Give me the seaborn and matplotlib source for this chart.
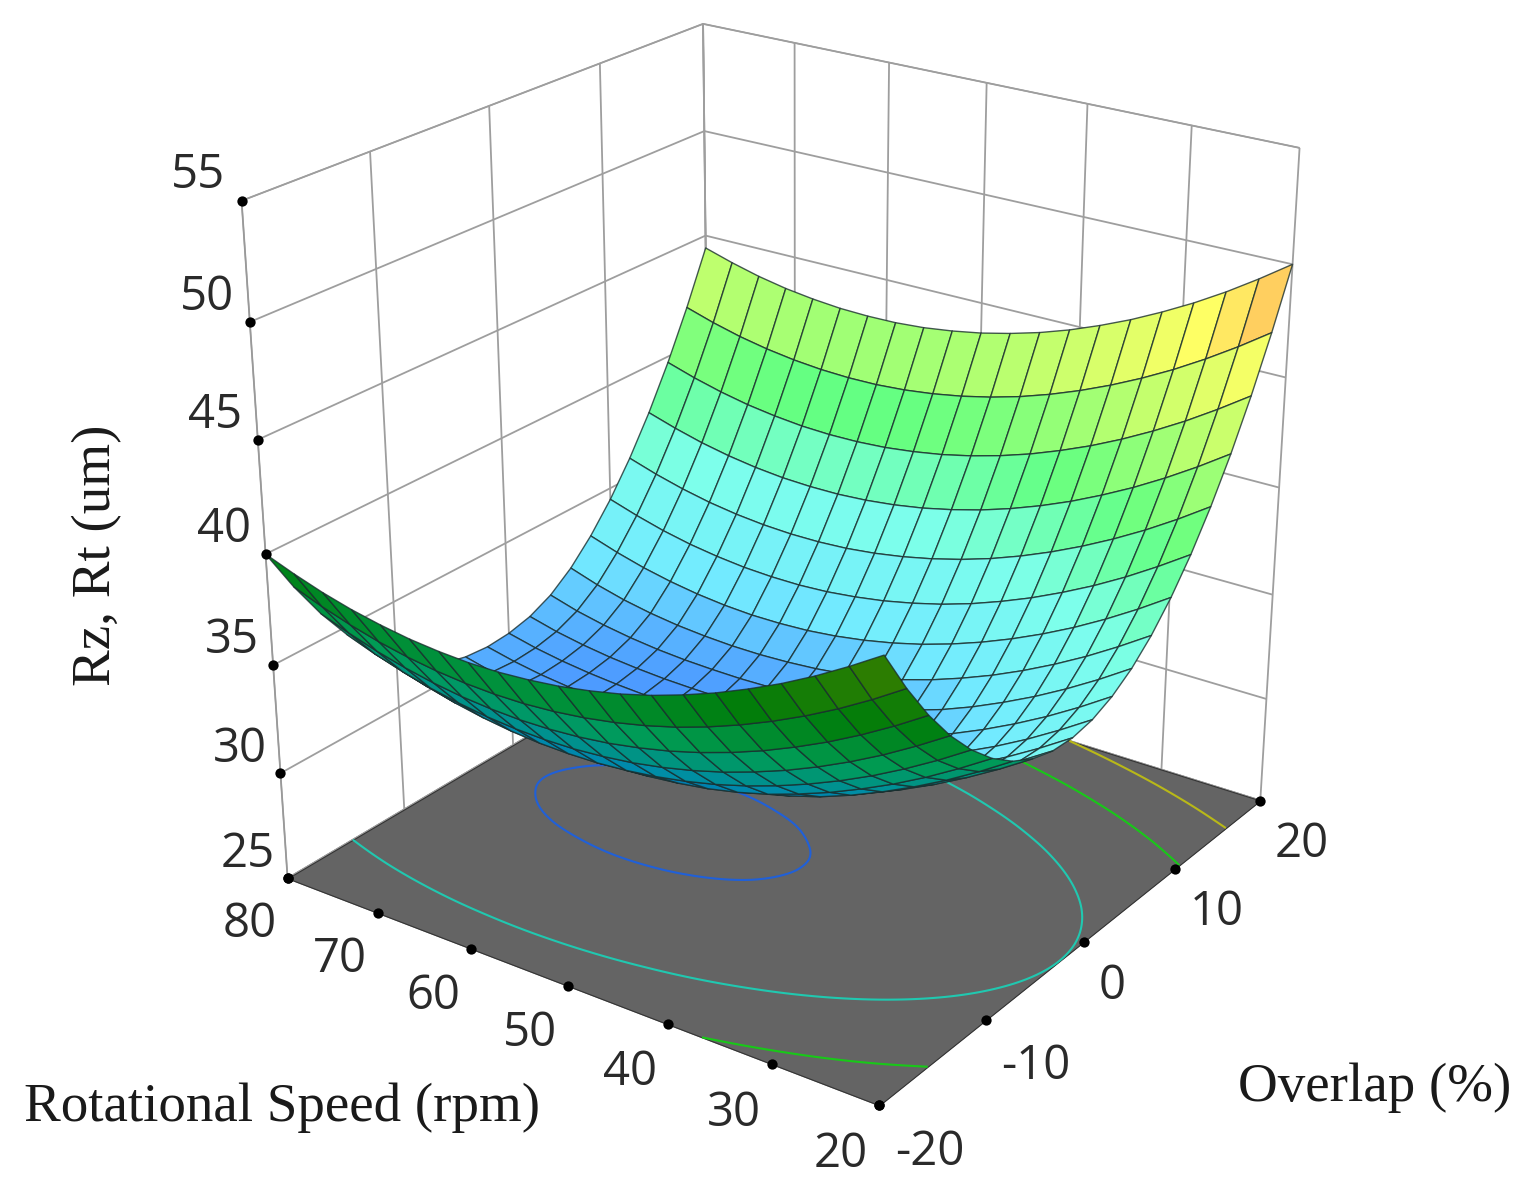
import numpy as np
import matplotlib
matplotlib.use("Agg")
import matplotlib.pyplot as plt
import matplotlib.tri as mtri
import seaborn as sns

overlap_ticks = [-20, -10, 0, 10, 20]
speed_ticks = [80, 70, 60, 50, 40, 30, 20]
z_ticks = [25, 30, 35, 40, 45, 50, 55]
levels = [30, 35, 40, 45]
level_colors = ["#2060d8", "#20c8b0", "#18c818", "#b8b818"]
overlap_grid = [-20, -18, -16, -14, -12, -10, -8, -6, -4, -2, 0, 2, 4, 6, 8, 10, 12, 14, 16, 18, 20]
speed_grid = [20, 23, 26, 29, 32, 35, 38, 41, 44, 47, 50, 53, 56, 59, 62, 65, 68, 71, 74, 77, 80]
# Rz, Rt: one row per speed_grid value, one column per overlap_grid value
rz_rt = [
    [44.00, 42.06, 40.35, 38.88, 37.65, 36.65, 35.89, 35.36, 35.07, 35.02, 35.20, 35.62, 36.27, 37.16, 38.29, 39.65, 41.25, 43.08, 45.15, 47.46, 50.00],
    [43.12, 41.17, 39.46, 37.99, 36.75, 35.75, 34.98, 34.45, 34.16, 34.10, 34.28, 34.69, 35.34, 36.23, 37.35, 38.71, 40.30, 42.13, 44.20, 46.50, 49.04],
    [42.30, 40.35, 38.64, 37.16, 35.92, 34.91, 34.14, 33.61, 33.31, 33.25, 33.42, 33.83, 34.48, 35.36, 36.48, 37.83, 39.42, 41.25, 43.31, 45.61, 48.14],
    [41.56, 39.61, 37.89, 36.41, 35.16, 34.15, 33.38, 32.84, 32.54, 32.47, 32.64, 33.05, 33.69, 34.57, 35.68, 37.03, 38.62, 40.44, 42.50, 44.79, 47.32],
    [40.90, 38.94, 37.22, 35.73, 34.48, 33.47, 32.69, 32.15, 31.84, 31.77, 31.94, 32.34, 32.98, 33.85, 34.96, 36.31, 37.89, 39.71, 41.76, 44.05, 46.58],
    [40.30, 38.34, 36.61, 35.12, 33.87, 32.85, 32.07, 31.53, 31.25, 31.18, 31.33, 31.70, 32.33, 33.20, 34.31, 35.65, 37.23, 39.04, 41.09, 43.38, 45.90],
    [39.78, 37.81, 36.08, 34.59, 33.33, 32.31, 31.53, 31.04, 30.79, 30.73, 30.85, 31.17, 31.76, 32.63, 33.73, 35.07, 36.64, 38.45, 40.50, 42.78, 45.30],
    [39.32, 37.35, 35.62, 34.12, 32.86, 31.83, 31.10, 30.66, 30.44, 30.38, 30.49, 30.77, 31.29, 32.12, 33.22, 34.55, 36.12, 37.93, 39.97, 42.25, 44.76],
    [38.94, 36.97, 35.23, 33.73, 32.46, 31.45, 30.78, 30.38, 30.18, 30.13, 30.21, 30.46, 30.93, 31.69, 32.78, 34.11, 35.68, 37.48, 39.52, 41.79, 44.30],
    [38.64, 36.66, 34.92, 33.41, 32.14, 31.15, 30.53, 30.17, 29.99, 29.94, 30.02, 30.24, 30.65, 31.35, 32.42, 33.75, 35.31, 37.11, 39.14, 41.41, 43.92],
    [38.40, 36.42, 34.67, 33.16, 31.89, 30.94, 30.36, 30.02, 29.85, 29.81, 29.88, 30.07, 30.45, 31.10, 32.13, 33.45, 35.01, 36.80, 38.83, 41.10, 43.60],
    [38.24, 36.25, 34.50, 32.99, 31.71, 30.79, 30.24, 29.92, 29.77, 29.72, 29.78, 29.96, 30.31, 30.92, 31.91, 33.23, 34.78, 36.57, 38.60, 40.86, 43.36],
    [38.14, 36.15, 34.40, 32.88, 31.60, 30.71, 30.17, 29.86, 29.71, 29.67, 29.73, 29.89, 30.22, 30.81, 31.76, 33.07, 34.62, 36.41, 38.43, 40.69, 43.18],
    [38.12, 36.13, 34.37, 32.85, 31.57, 30.68, 30.14, 29.84, 29.69, 29.65, 29.70, 29.86, 30.18, 30.75, 31.69, 32.99, 34.54, 36.32, 38.34, 40.59, 43.08],
    [38.18, 36.18, 34.42, 32.89, 31.60, 30.70, 30.16, 29.85, 29.70, 29.66, 29.71, 29.87, 30.19, 30.75, 31.68, 32.99, 34.53, 36.31, 38.32, 40.57, 43.06],
    [38.30, 36.30, 34.53, 33.00, 31.71, 30.78, 30.22, 29.90, 29.74, 29.69, 29.74, 29.90, 30.23, 30.81, 31.75, 33.05, 34.59, 36.36, 38.37, 40.62, 43.10],
    [38.50, 36.49, 34.72, 33.19, 31.89, 30.92, 30.32, 29.98, 29.81, 29.76, 29.81, 29.98, 30.32, 30.92, 31.89, 33.19, 34.72, 36.49, 38.50, 40.74, 43.22],
    [38.76, 36.75, 34.98, 33.44, 32.14, 31.13, 30.49, 30.11, 29.92, 29.86, 29.92, 30.10, 30.47, 31.10, 32.10, 33.39, 34.92, 36.69, 38.69, 40.93, 43.40],
    [39.10, 37.09, 35.31, 33.77, 32.46, 31.41, 30.71, 30.30, 30.08, 30.01, 30.08, 30.28, 30.68, 31.35, 32.38, 33.67, 35.20, 36.96, 38.96, 41.19, 43.66],
    [39.52, 37.50, 35.72, 34.17, 32.86, 31.79, 31.02, 30.56, 30.31, 30.23, 30.30, 30.52, 30.96, 31.69, 32.74, 34.03, 35.55, 37.31, 39.30, 41.53, 44.00],
    [40.00, 37.98, 36.19, 34.64, 33.33, 32.25, 31.42, 30.90, 30.62, 30.52, 30.60, 30.85, 31.34, 32.12, 33.17, 34.45, 35.97, 37.72, 39.71, 41.94, 44.40],
]
Z = np.array(rz_rt)

sns.set_theme(style="white", font="Open Sans")
W, H = 1532, 1181
fig = plt.figure(figsize=(W / 100, H / 100), dpi=100, facecolor="white")
ax = fig.add_axes([0, 0, 1, 1], projection="3d", computed_zorder=False)
ax.view_init(elev=30, azim=-135)
ax.patch.set_alpha(0)

# camera calibration (data -> reference pixels): box ticks
world = [(-20, s, 25) for s in speed_ticks] + [(o, 20, 25) for o in overlap_ticks[1:]]
pix = [(285, 882), (383, 918), (481, 955), (580, 992), (678, 1028), (777, 1065), (875, 1101),
       (972, 1026), (1068, 952), (1165, 877), (1262, 802)]
world += [(-20, 80, z) for z in z_ticks[1:]]
pix += [(278, 768), (272, 655), (265, 542), (258, 429), (252, 316), (245, 203)]
world += [(20, 20, z) for z in z_ticks]
pix += [(1262, 802), (1267, 693), (1273, 583), (1279, 475), (1285, 365), (1291, 257), (1297, 148)]
world += [(o, 80, 55) for o in overlap_ticks[1:]]
pix += [(360, 159), (473, 116), (588, 72), (703, 28)]
world += [(20, s, 55) for s in speed_ticks[1:-1]] + [(20, 80, 50)]
pix += [(800, 48), (900, 68), (1000, 88), (1098, 108), (1197, 128), (703, 130)]
world += [(-20, 80, 40), (20, 20, 50), (-20, 20, 44), (20, 80, 44.4)]
pix += [(265, 543), (1290, 262), (885, 662), (703, 245)]
world = np.array(world, float)
pix = np.array(pix, float)
weights = np.ones(len(world))
for _ in range(6):
    rows = []
    for (x, y, z), (u, v), w_ in zip(world, pix, weights):
        v = H - v
        rows.append(np.array([x, y, z, 1, 0, 0, 0, 0, -u * x, -u * y, -u * z, -u]) * w_)
        rows.append(np.array([0, 0, 0, 0, x, y, z, 1, -v * x, -v * y, -v * z, -v]) * w_)
    P = np.linalg.svd(np.array(rows))[2][-1].reshape(3, 4)
    P = P / (P[2] @ np.array([0, 50, 40, 1]))
    weights = 1 / (np.c_[world, np.ones(len(world))] @ P[2])
M0 = np.vstack([P[0], P[1], np.array([0, 0, 0, -0.5]), P[2]])


def get_proj():
    inv = ax.transData.inverted().get_matrix()
    A = np.eye(4)
    A[0, [0, 1, 3]] = inv[0]
    A[1, [0, 1, 3]] = inv[1]
    return A @ M0


ax.get_proj = get_proj


def to_pix(x, y, z):
    q = np.stack([x, y, z, np.ones_like(x)], -1) @ P.T
    return q[..., 0] / q[..., 2], q[..., 1] / q[..., 2]


def rgb(*c):
    return tuple(i / 255 for i in c)


top_cmap = sns.blend_palette([rgb(65, 130, 255), rgb(115, 235, 255), rgb(125, 255, 235), rgb(100, 255, 130),
                              rgb(190, 255, 110), rgb(255, 255, 100), rgb(255, 160, 90)], as_cmap=True)
under_cmap = sns.blend_palette([rgb(0, 90, 190), rgb(0, 140, 170), rgb(0, 155, 85), rgb(0, 125, 10),
                                rgb(50, 125, 0), rgb(75, 120, 0), rgb(75, 120, 0)], as_cmap=True)

X, Y = np.meshgrid(overlap_grid, speed_grid)
X = X.astype(float)
Y = Y.astype(float)
zc = (Z[:-1, :-1] + Z[1:, :-1] + Z[:-1, 1:] + Z[1:, 1:]) / 4
u, v = to_pix(X, Y, Z)
area = ((u[1:, 1:] - u[:-1, :-1]) * (v[1:, :-1] - v[:-1, 1:]) - (u[1:, :-1] - u[:-1, 1:]) * (v[1:, 1:] - v[:-1, :-1]))
t = (zc - 29) / 21
# the side of each cell that faces the camera decides its colour
fc = np.where((np.sign(area) == np.sign(area[10, 10]))[..., None], top_cmap(t), under_cmap(t))

fx, fy = np.meshgrid([-20.0, 20.0], [20.0, 80.0])
ax.plot_surface(fx, fy, np.full_like(fx, 25.0), color="#646464", shade=False, edgecolor="#333333", linewidth=0.8, zorder=1)
tri = mtri.Triangulation(X.ravel(), Y.ravel())
tri2, z2 = mtri.UniformTriRefiner(tri).refine_field(Z.ravel(), subdiv=3)
ax.tricontour(tri2, z2, levels=levels, colors=level_colors, zdir="z", offset=25, linewidths=1.5, zorder=2)
ax.plot_surface(X, Y, Z, facecolors=fc, rstride=1, cstride=1, shade=False, edgecolor=(0.1, 0.18, 0.18, 0.8), linewidth=1.0, zorder=3)

dot = dict(color="black", s=55, depthshade=False, zorder=5, linewidths=0)
ax.scatter(overlap_ticks, np.full(5, 20), np.full(5, 25), **dot)
ax.scatter(np.full(7, -20), speed_ticks, np.full(7, 25), **dot)
ax.scatter(np.full(7, -20), np.full(7, 80), z_ticks, **dot)

ax.set_xlim(-20, 20, view_margin=0)
ax.set_ylim(20, 80, view_margin=0)
ax.set_zlim(25, 55, view_margin=0)
ax.set_xticks(overlap_ticks, labels=[str(i) for i in overlap_ticks])
ax.set_yticks(speed_ticks, labels=[str(i) for i in speed_ticks])
ax.set_zticks(z_ticks, labels=[f"{i}\n" for i in z_ticks])
ax.grid(True)
for axis, pad in ((ax.xaxis, 3), (ax.yaxis, 3), (ax.zaxis, 9.5)):
    axis.set_pane_color((1, 1, 1, 1))
    axis.pane.set_edgecolor((0.6, 0.6, 0.6, 1))
    axis._axinfo["grid"].update(color=(0.62, 0.62, 0.62, 1), linewidth=1.3)
    axis._axinfo["tick"].update(inward_factor=0, outward_factor=0)
    axis.line.set_color((0.6, 0.6, 0.6, 1))
    axis.line.set_linewidth(1.0)
    axis.set_tick_params(pad=pad, labelsize=34, labelcolor="#2a2a2a")
for tk in ax.xaxis.get_major_ticks():
    tk.label1.set_ha("left"); tk.label1.set_va("top")
for tk in ax.yaxis.get_major_ticks():
    tk.label1.set_ha("right"); tk.label1.set_va("top")
for tk in ax.zaxis.get_major_ticks():
    tk.label1.set_ha("center"); tk.label1.set_va("center")

lab = dict(family="Liberation Serif", fontsize=39.6, color="#1a1a1a", ha="center", va="center")
fig.text(282 / W, 1 - 1108 / H, "Rotational Speed (rpm)", **lab)
fig.text(1375 / W, 1 - 1088 / H, "Overlap (%)", **lab)
fig.text(97 / W, 1 - 555 / H, "Rz, Rt (um)", rotation=90, **lab)

fig.savefig("out.png", dpi=100)
